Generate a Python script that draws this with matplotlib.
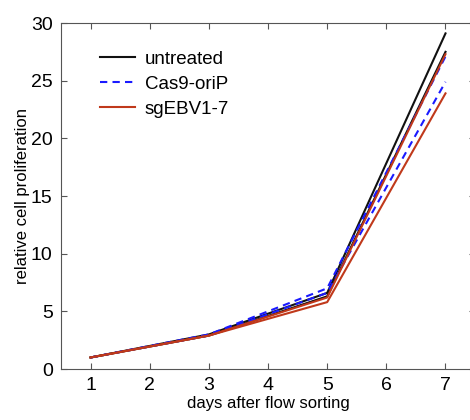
import matplotlib
matplotlib.use('Agg')
import matplotlib.pyplot as plt

plt.rcParams['font.family'] = ['Liberation Sans', 'DejaVu Sans']

days = [1, 3, 5, 7]
untreated_a = [1.0, 3.0, 6.6, 29.1]
untreated_b = [1.0, 2.9, 6.3, 27.5]
cas9_a = [1.0, 3.0, 7.0, 27.1]
cas9_b = [1.0, 2.9, 6.6, 24.9]
sgebv_a = [1.0, 2.9, 6.2, 27.3]
sgebv_b = [1.0, 2.9, 5.8, 23.9]

black = '#111111'
blue = '#1a1aff'
red = '#c0391b'
dash = (0, (3.5, 2.5))


def main():
    fig = plt.figure(figsize=(4.7, 4.2), dpi=100)
    ax = fig.add_axes([0.1298, 0.1214, 0.881, 0.8238])

    ax.plot(days, untreated_a, color=black, lw=1.5)
    ax.plot(days, untreated_b, color=black, lw=1.5)
    ax.plot(days, cas9_a, color=blue, lw=1.5, ls=dash)
    ax.plot(days, cas9_b, color=blue, lw=1.5, ls=dash)
    ax.plot(days, sgebv_a, color=red, lw=1.5)
    ax.plot(days, sgebv_b, color=red, lw=1.5)

    h1, = ax.plot([], [], color=black, lw=1.5)
    h2, = ax.plot([], [], color=blue, lw=1.5, ls=dash)
    h3, = ax.plot([], [], color=red, lw=1.5)
    ax.legend([h1, h2, h3], ['untreated', 'Cas9-oriP', 'sgEBV1-7'],
              loc='upper left', bbox_to_anchor=(0.094, 0.92), frameon=False,
              fontsize=13.5, handlelength=1.87, handletextpad=0.53,
              labelspacing=0.42, borderpad=0, borderaxespad=0)

    ax.set_xlim(0.5, 7.5)
    ax.set_ylim(0, 30)
    ax.set_xticks(range(1, 8))
    ax.set_yticks(range(0, 31, 5))
    ax.tick_params(direction='in', top=True, right=True, length=4,
                   labelsize=14, color='#555555', pad=6)
    for s in ax.spines.values():
        s.set_color('#555555')
    ax.set_xlabel('days after flow sorting', fontsize=12, labelpad=1.5)
    ax.set_ylabel('relative cell proliferation', fontsize=12, labelpad=1)

    fig.savefig('out.png', dpi=100)


if __name__ == '__main__':
    main()
